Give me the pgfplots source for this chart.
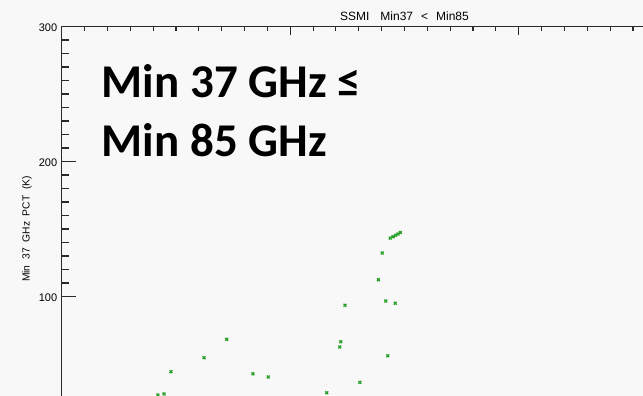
\documentclass[border=0pt]{standalone}
\usepackage{pgfplots}
\usepackage{pgfplotstable}
\pgfplotsset{compat=1.18}
\usepackage{fontspec}
\setmainfont{Liberation Sans}
\newfontfamily\calib{Carlito}

\definecolor{bg}{HTML}{F8F8F8}
\definecolor{ptgreen}{RGB}{40,160,40}
\definecolor{axisgray}{HTML}{2A2A2A}

% Min 85 GHz PCT (x) vs Min 37 GHz PCT (y), cases with Min37 < Min85
\pgfplotstableread{
x      y
42.1   27.0
44.8   27.8
47.8   44.3
62.3   54.7
72.2   68.3
83.7   42.7
90.4   40.4
116.0  28.7
130.5  36.4
142.7  56.1
121.7  62.6
122.1  66.5
124.0  93.5
141.8  96.7
146.0  95.0
138.6  112.4
140.3  132.2
143.8  143.3
145.0  144.3
146.1  145.3
147.2  146.3
148.2  147.4
}\ssmidata

\pgfplotsset{
  idlbox/.style={
    at={(61.7pt,-431.5pt)}, anchor=south west,
    x=2.285pt, y=1.35pt,
    xmin=0, xmax=300, ymin=0, ymax=300,
    axis line style={axisgray, line width=1.1pt},
    tick style={axisgray, line width=1.1pt},
    tick align=inside,
  }
}

\begin{document}
\begin{tikzpicture}[x=1pt,y=1pt]
\fill[bg] (0,-396) rectangle (643,0);
\begin{scope}
\clip (0,-396) rectangle (643,0);

% data, y ticks, labels
\begin{axis}[
  idlbox,
  xtick=\empty,
  ytick={100,200,300},
  minor y tick num=9,
  major tick length=14pt,
  minor tick length=7pt,
  /pgf/number format/assume math mode=true,
  yticklabel style={font=\fontsize{11}{11}\selectfont, xshift=-1pt, yshift=-1pt},
  title={SSMI\hspace{11pt}Min37\hspace{8pt}<\hspace{8pt}Min85},
  title style={font=\fontsize{12}{12}\selectfont, at={(0.5,1)}, anchor=base},
  ylabel={Min\ \ 37\ \ GHz\ \ PCT\ \ (K)},
  ylabel style={font=\fontsize{10.3}{11}\selectfont, at={(axis description cs:-0.0506,0.5)}, anchor=center},
]
\addplot[only marks, mark=x, mark size=2pt, mark options={ptgreen, line width=1.3pt}] table[x=x, y=y] {\ssmidata};
\end{axis}

% x ticks along the top edge
\begin{axis}[
  idlbox,
  hide y axis,
  xtick={0,100,200,300},
  minor x tick num=9,
  xticklabels={},
  major tick length=8.5pt,
  minor tick length=4.3pt,
]
\end{axis}

\node[anchor=base west, inner sep=0pt, font=\calib\bfseries\fontsize{47}{56}\selectfont] at (101.7,-98) {Min 37 GHz ≤};
\node[anchor=base west, inner sep=0pt, font=\calib\bfseries\fontsize{47}{56}\selectfont] at (101.7,-156) {Min 85 GHz};
\end{scope}
\pgfresetboundingbox
\useasboundingbox (0,-396) rectangle (643,0);
\end{tikzpicture}
\end{document}
